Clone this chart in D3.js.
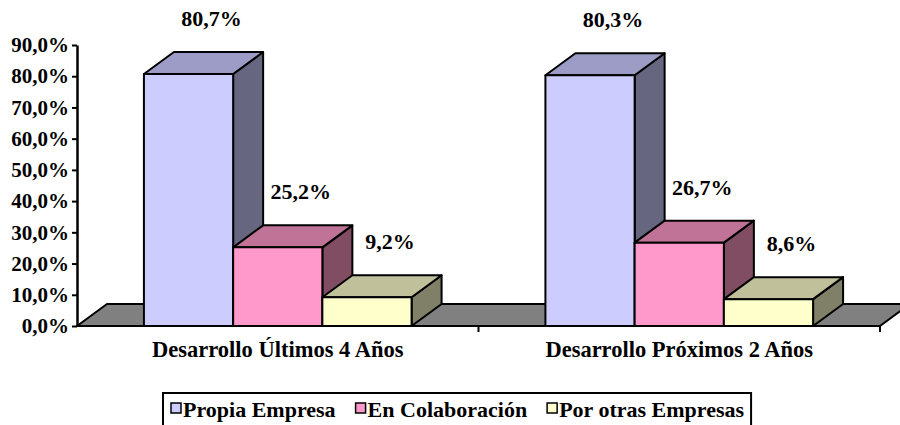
<!DOCTYPE html>
<html>
<head>
<meta charset="utf-8">
<script src="https://cdn.jsdelivr.net/npm/d3@7"></script>
<style>
  html, body { margin: 0; padding: 0; background: #fff; }
  svg { display: block; }
  text { font-family: "Liberation Serif", "Times New Roman", serif; font-weight: bold; fill: #000; }
</style>
</head>
<body>
<div id="chart"></div>
<script>
const categories = ['Desarrollo Últimos 4 Años', 'Desarrollo Próximos 2 Años'];
const seriesNames = ['Propia Empresa', 'En Colaboración', 'Por otras Empresas'];
const propiaEmpresa = [80.7, 80.3];
const enColaboracion = [25.2, 26.7];
const porOtrasEmpresas = [9.2, 8.6];
const yTicks = [0, 10, 20, 30, 40, 50, 60, 70, 80, 90];

const seriesValues = [propiaEmpresa, enColaboracion, porOtrasEmpresas];
const palette = [
  { front: '#ccccff', top: '#9c9cc6', side: '#666680' },
  { front: '#ff99cc', top: '#c07397', side: '#804d62' },
  { front: '#ffffcc', top: '#c0c09a', side: '#808068' }
];

const width = 900, height = 425;
const margin = { top: 45, right: 20, bottom: 99, left: 77 };
const depth = { dx: 30, dy: -22 };

const es = d3.formatLocale({ decimal: ',', thousands: '.', grouping: [3], currency: ['', '€'] });
const fmt = v => es.format('.1f')(v) + '%';

const x = d3.scaleBand()
  .domain(categories)
  .range([margin.left, width - margin.right])
  .padding(0);
const xs = d3.scaleBand()
  .domain(seriesNames)
  .range([0, x.bandwidth()])
  .paddingInner(0)
  .paddingOuter(0.75);
const y = d3.scaleLinear()
  .domain([0, 90])
  .range([height - margin.bottom, margin.top]);

const svg = d3.select('#chart').append('svg')
  .attr('width', width)
  .attr('height', height);

const y0 = y(0);
const x0 = margin.left, x1 = width - margin.right;

// suelo
svg.append('path')
  .attr('d', `M${x0},${y0}L${x1},${y0}L${x1 + depth.dx},${y0 + depth.dy}L${x0 + depth.dx},${y0 + depth.dy}Z`)
  .attr('fill', '#808080')
  .attr('stroke', '#000')
  .attr('stroke-width', 2)
  .attr('stroke-linejoin', 'round');

// ticks eje categorías
svg.append('g')
  .selectAll('line')
  .data(categories.map(c => x(c) + x.bandwidth()))
  .join('line')
  .attr('x1', d => d).attr('x2', d => d)
  .attr('y1', y0).attr('y2', y0 + 6)
  .attr('stroke', '#000').attr('stroke-width', 2);

// barras 3D
const bars = [];
categories.forEach((c, ci) => {
  seriesNames.forEach((s, si) => {
    bars.push({ cat: c, series: s, si, value: seriesValues[si][ci] });
  });
});

const barG = svg.append('g')
  .selectAll('g')
  .data(bars)
  .join('g');

const bx = d => x(d.cat) + xs(d.series);
const bw = xs.bandwidth();

barG.append('path') // lado
  .attr('d', d => {
    const l = bx(d) + bw, t = y(d.value);
    return `M${l},${y0}L${l},${t}L${l + depth.dx},${t + depth.dy}L${l + depth.dx},${y0 + depth.dy}Z`;
  })
  .attr('fill', d => palette[d.si].side);

barG.append('path') // tapa
  .attr('d', d => {
    const l = bx(d), t = y(d.value);
    return `M${l},${t}L${l + depth.dx},${t + depth.dy}L${l + bw + depth.dx},${t + depth.dy}L${l + bw},${t}Z`;
  })
  .attr('fill', d => palette[d.si].top);

barG.append('rect') // frente
  .attr('x', bx)
  .attr('y', d => y(d.value))
  .attr('width', bw)
  .attr('height', d => y0 - y(d.value))
  .attr('fill', d => palette[d.si].front);

barG.selectAll('path, rect')
  .attr('stroke', '#000')
  .attr('stroke-width', 2)
  .attr('stroke-linejoin', 'round');

// etiquetas de valores
svg.append('g')
  .selectAll('text')
  .data(bars)
  .join('text')
  .attr('x', d => bx(d) + bw / 2 + 23)
  .attr('y', d => y(d.value) + depth.dy - 26)
  .attr('text-anchor', 'middle')
  .style('font-size', '22px')
  .text(d => fmt(d.value));

// eje Y
svg.append('g')
  .attr('transform', `translate(${margin.left},0)`)
  .call(d3.axisLeft(y).tickValues(yTicks).tickSize(5).tickSizeOuter(0).tickPadding(3).tickFormat(fmt))
  .call(g => g.attr('font-family', null).attr('font-size', null))
  .call(g => g.select('.domain').attr('stroke-width', 2.5))
  .call(g => g.selectAll('.tick line').attr('stroke-width', 2))
  .call(g => g.selectAll('.tick text').style('font-size', '21px'));

// etiquetas de categorías
svg.append('g')
  .selectAll('text')
  .data(categories)
  .join('text')
  .attr('x', d => x(d) + x.bandwidth() / 2)
  .attr('y', 357)
  .attr('text-anchor', 'middle')
  .style('font-size', '22.5px')
  .text(d => d);

// leyenda
const legend = svg.append('g');
const legBox = legend.append('rect')
  .attr('fill', '#fff')
  .attr('stroke', '#000')
  .attr('stroke-width', 2);
let lx = 171;
seriesNames.forEach((s, i) => {
  legend.append('rect')
    .attr('x', lx).attr('y', 403)
    .attr('width', 10).attr('height', 10)
    .attr('fill', palette[i].front)
    .attr('stroke', '#000').attr('stroke-width', 1.5);
  const t = legend.append('text')
    .attr('x', lx + 12).attr('y', 417)
    .style('font-size', '22px')
    .text(s);
  lx += 12 + t.node().getComputedTextLength() + 20;
});
legBox.attr('x', 163).attr('y', 393).attr('width', lx - 20 - 163 + 7).attr('height', 40);
</script>
</body>
</html>
